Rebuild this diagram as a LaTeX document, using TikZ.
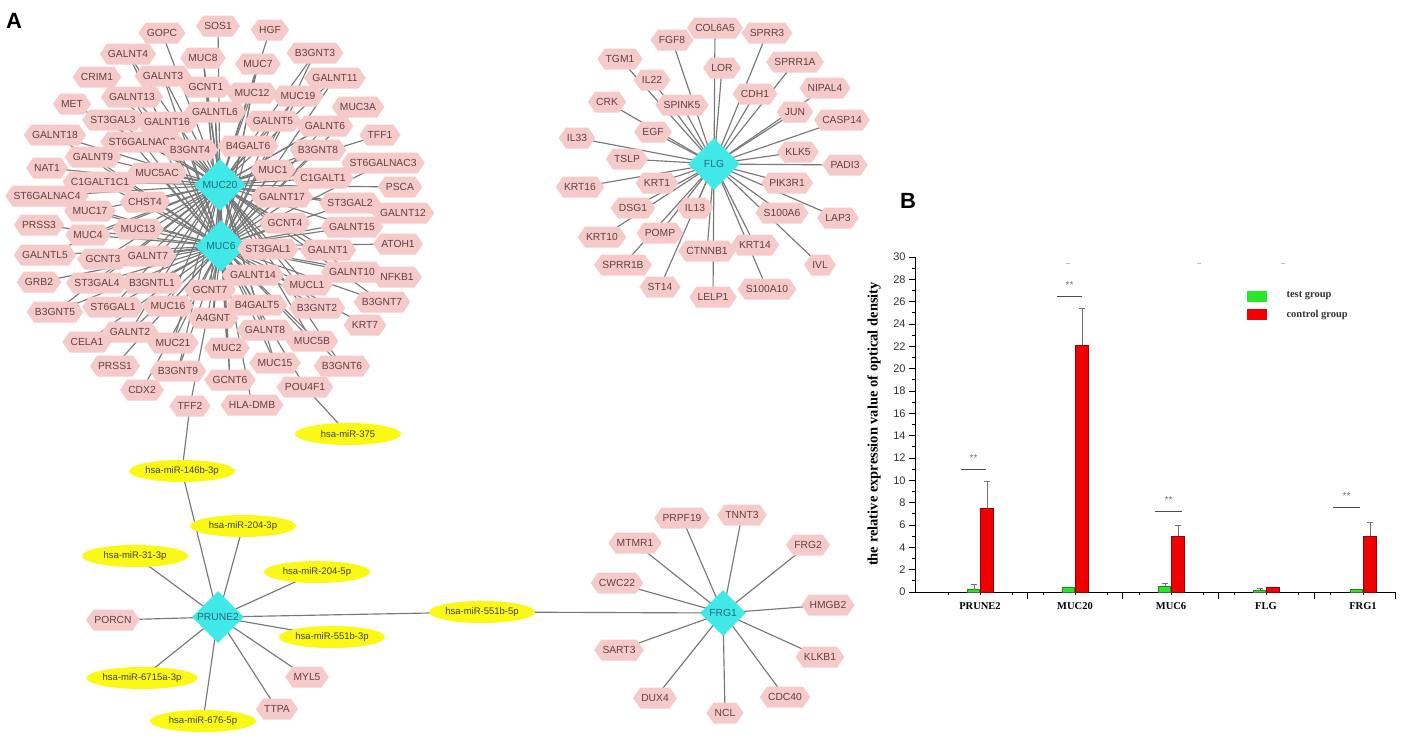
\documentclass[tikz,border=0pt]{standalone}
\usepackage{fontspec}
\setmainfont{Liberation Sans}
\newfontfamily\chartserif{Liberation Serif}
\usetikzlibrary{shapes.symbols,shapes.geometric}
\definecolor{hexpink}{RGB}{247,202,202}
\definecolor{hextext}{RGB}{95,65,65}
\definecolor{hubcyan}{RGB}{64,232,232}
\definecolor{hubtext}{RGB}{40,105,125}
\definecolor{mirfill}{RGB}{250,248,20}
\definecolor{edgegray}{RGB}{120,120,120}
\definecolor{barg}{RGB}{40,230,40}
\definecolor{bargd}{RGB}{30,140,30}
\definecolor{barr}{RGB}{240,0,0}
\definecolor{barrd}{RGB}{150,0,0}
\pgfdeclarelayer{bg}
\pgfsetlayers{bg,main}
\begin{document}
\begin{tikzpicture}[x=1pt,y=-1pt,
 hex/.style={shape=signal, signal to=east and west, signal pointer angle=110, fill=hexpink, text=hextext, font=\fontsize{10.3}{10}\selectfont, inner xsep=1pt, inner ysep=2pt, minimum height=21pt},
 hub/.style={diamond, fill=hubcyan, text=hubtext, font=\fontsize{10.3}{10}\selectfont, inner sep=0pt, minimum width=52pt, minimum height=52pt},
 mir/.style={ellipse, fill=mirfill, text=black!75, font=\fontsize{9.5}{10}\selectfont, inner sep=0pt, minimum width=106pt, minimum height=22pt},
 edge/.style={draw=edgegray, line width=1.15pt},
 panel/.style={font=\fontsize{22}{22}\selectfont\bfseries, text=black}]
\useasboundingbox (0,0) rectangle (1412,740);

\node[panel] (labA) at (14,21) {A};
\node[panel] (labB) at (908,201) {B};

% ---------- MUC20 / MUC6 cluster ----------
\node[hub] (MUC20) at (220,185) {MUC20};
\node[hub] (MUC6) at (221,246) {MUC6};
\foreach \n/\x/\y in {GOPC/162/33, SOS1/218/26, HGF/270/30, GALNT4/128/54, MUC8/203/58, MUC7/258/64,
  B3GNT3/315/53, CRIM1/97/77, GALNT3/163/76, GCNT1/206/87, MUC12/252/93, GALNT11/335/78,
  GALNT13/132/97, MUC19/298/96, MUC3A/358/107, MET/72/104, GALNTL6/215/112, ST3GAL3/113/120,
  GALNT16/167/122, GALNT5/273/121, GALNT6/325/126, TFF1/380/135, GALNT18/55/135, ST6GALNAC2/142/142,
  B3GNT4/190/150, B4GALT6/248/146, B3GNT8/318/150, GALNT9/93/157, MUC1/273/170, ST6GALNAC3/383/163,
  NAT1/47/168, MUC5AC/157/173, C1GALT1C1/100/182, C1GALT1/323/178, PSCA/400/187, ST6GALNAC4/47/196,
  CHST4/145/202, GALNT17/282/197, ST3GAL2/350/203, GALNT12/403/213, MUC17/90/211, PRSS3/39/225,
  MUC13/138/229, MUC4/88/235, GCNT4/285/223, GALNT15/352/227, GALNTL5/45/255, GCNT3/103/259,
  GALNT7/148/256, ST3GAL1/268/249, GALNT1/328/250, ATOH1/398/244, GRB2/39/282, ST3GAL4/97/283,
  B3GNTL1/152/283, GCNT7/210/290, GALNT14/253/275, GALNT10/352/272, NFKB1/397/277, MUCL1/307/285,
  B3GNT5/55/312, ST6GAL1/113/307, MUC16/168/306, A4GNT/213/318, B4GALT5/257/305, B3GNT2/317/308,
  B3GNT7/382/302, KRT7/365/325, CELA1/87/342, GALNT2/130/332, MUC21/173/343, GALNT8/265/330,
  MUC2/227/348, MUC5B/312/341, MUC15/275/363, B3GNT6/342/366, PRSS1/115/366, B3GNT9/178/371,
  GCNT6/230/380, POU4F1/305/387, CDX2/142/390, TFF2/190/406}
  \node[hex] (\n) at (\x,\y) {\n};
\node[hex] (HLADMB) at (252,405) {HLA-DMB};

% ---------- FLG cluster ----------
\node[hub] (FLG) at (714,164) {FLG};
\foreach \n/\x/\y in {COL6A5/715/28, SPRR3/767/33, FGF8/672/40, TGM1/620/59, LOR/722/68, SPRR1A/795/62,
  IL22/652/80, CDH1/755/94, NIPAL4/825/88, CRK/607/102, SPINK5/682/105, JUN/795/112, CASP14/842/120,
  EGF/653/132, IL33/577/138, KLK5/798/152, TSLP/627/159, PADI3/845/165, KRT1/657/183, KRT16/580/187,
  PIK3R1/787/183, DSG1/633/208, IL13/695/208, S100A6/782/213, LAP3/838/218, KRT10/602/237,
  POMP/660/233, CTNNB1/707/251, KRT14/755/245, IVL/820/265, SPRR1B/623/265, ST14/660/287,
  LELP1/713/297, S100A10/767/289}
  \node[hex] (\n) at (\x,\y) {\n};

% ---------- miRNAs and PRUNE2 ----------
\node[mir] (m375) at (348,434) {hsa-miR-375};
\node[mir] (m146) at (182,471) {hsa-miR-146b-3p};
\node[mir] (m204a) at (243,526) {hsa-miR-204-3p};
\node[mir] (m31) at (135,556) {hsa-miR-31-3p};
\node[mir] (m204b) at (317,572) {hsa-miR-204-5p};
\node[hub] (PRUNE2) at (218,617) {PRUNE2};
\node[hex] (PORCN) at (113,620) {PORCN};
\node[mir] (m551a) at (332,637) {hsa-miR-551b-3p};
\node[mir] (m6715) at (142,678) {hsa-miR-6715a-3p};
\node[hex] (MYL5) at (307,677) {MYL5};
\node[hex] (TTPA) at (277,709) {TTPA};
\node[mir] (m676) at (203,721) {hsa-miR-676-5p};
\node[mir] (m551b) at (482,612) {hsa-miR-551b-5p};

% ---------- FRG1 cluster ----------
\node[hub, minimum width=46pt, minimum height=46pt] (FRG1) at (723,613) {FRG1};
\foreach \n/\x/\y in {PRPF19/682/518, TNNT3/742/515, MTMR1/635/543, FRG2/808/545, CWC22/617/583,
  HMGB2/828/605, SART3/619/650, KLKB1/820/657, DUX4/655/698, CDC40/785/697, NCL/725/713}
  \node[hex] (\n) at (\x,\y) {\n};

% ---------- connectors ----------
\begin{pgfonlayer}{bg}
\draw[edge] (MUC20.center) -- (MUC6.center);
\foreach \n in {GALNT4, MUC8, MUC7, B3GNT3, GALNT3, GCNT1, MUC12, GALNT11, GALNT13, MUC19, MUC3A,
  GALNTL6, ST3GAL3, GALNT16, GALNT5, GALNT6, GALNT18, ST6GALNAC2, B3GNT4, B4GALT6, B3GNT8, GALNT9,
  MUC1, ST6GALNAC3, MUC5AC, C1GALT1C1, C1GALT1, ST6GALNAC4, CHST4, GALNT17, ST3GAL2, GALNT12, MUC17,
  MUC13, MUC4, GCNT4, GALNT15, GALNTL5, GCNT3, GALNT7, ST3GAL1, GALNT1, ST3GAL4, B3GNTL1, GCNT7,
  GALNT14, GALNT10, MUCL1, B3GNT5, ST6GAL1, MUC16, A4GNT, B4GALT5, B3GNT2, B3GNT7, GALNT2, MUC21,
  GALNT8, MUC2, MUC5B, MUC15, B3GNT6, B3GNT9, GCNT6}
  {\draw[edge] (MUC20.center) -- (\n.center);
   \draw[edge] (MUC6.center) -- (\n.center);}
\foreach \n in {GOPC, SOS1, HGF, CRIM1, MET, NAT1, TFF1, PSCA}
  \draw[edge] (MUC20.center) -- (\n.center);
\foreach \n in {PRSS3, GRB2, CELA1, PRSS1, CDX2, ATOH1, NFKB1, KRT7, HLADMB, POU4F1, TFF2}
  \draw[edge] (MUC6.center) -- (\n.center);
\draw[edge] (TFF2.center) -- (m146.center);
\draw[edge] (POU4F1.center) -- (m375.center);
\foreach \n in {COL6A5, SPRR3, FGF8, TGM1, LOR, SPRR1A, IL22, CDH1, NIPAL4, CRK, SPINK5, JUN, CASP14,
  EGF, IL33, KLK5, TSLP, PADI3, KRT1, KRT16, PIK3R1, DSG1, IL13, S100A6, LAP3, KRT10, POMP, CTNNB1,
  KRT14, IVL, SPRR1B, ST14, LELP1, S100A10}
  \draw[edge] (FLG.center) -- (\n.center);
\foreach \n in {m146, m204a, m31, m204b, PORCN, m551a, m6715, MYL5, TTPA, m676, m551b}
  \draw[edge] (PRUNE2.center) -- (\n.center);
\foreach \n in {PRPF19, TNNT3, MTMR1, FRG2, CWC22, HMGB2, SART3, KLKB1, DUX4, CDC40, NCL, m551b}
  \draw[edge] (FRG1.center) -- (\n.center);
\end{pgfonlayer}

% ---------- bar chart ----------
\begin{scope}[line width=0.8pt]
\draw (915,592) -- (915,257);
\draw (915,592) -- (1395,592);
\foreach \v in {0,2,...,30}
  {\draw (909,{592-\v*11.167}) -- (915,{592-\v*11.167});
   \node[anchor=east, inner sep=0pt, font=\fontsize{11}{11}\selectfont, text=black!80] at (906,{592-\v*11.167}) {\v};}
\foreach \v in {1,3,...,29}
  \draw (912,{592-\v*11.167}) -- (915,{592-\v*11.167});
\foreach \x in {1027,1122,1218,1314,1395}
  \draw (\x,592) -- (\x,599);
\foreach \x in {948,980,1012,1043,1075,1107,1139,1171,1203,1234,1266,1298,1330,1363}
  \draw (\x,592) -- (\x,595);
\end{scope}
\node[rotate=90, font=\chartserif\bfseries\fontsize{14.5}{14}\selectfont] (ylab) at (874,424) {the relative expression value of optical density};
\foreach \c/\t/\r/\lab in {980/0.2/7.5/PRUNE2, 1075/0.4/22.1/MUC20, 1171/0.5/5.0/MUC6, 1266/0.15/0.45/FLG, 1363/0.2/5.0/FRG1}
  {\filldraw[fill=barg, draw=bargd, line width=0.6pt] (\c-13,592) rectangle (\c-1,{592-\t*11.167});
   \filldraw[fill=barr, draw=barrd, line width=0.6pt] (\c,592) rectangle (\c+13,{592-\r*11.167});
   \node[font=\chartserif\bfseries\fontsize{10.5}{10}\selectfont] at (\c,606) {\lab};}
\begin{scope}[draw=black!55, line width=0.8pt]
\foreach \x/\b/\e in {987/7.5/9.9, 1082/22.1/25.4, 1178/5.0/6.0, 1370/5.0/6.2, 974/0.2/0.7, 1165/0.5/0.8, 1260/0.15/0.3}
  {\draw (\x,{592-\b*11.167}) -- (\x,{592-\e*11.167});
   \draw (\x-3,{592-\e*11.167}) -- (\x+3,{592-\e*11.167});}
\end{scope}
\foreach \a/\b/\v in {961/986/11, 1057/1082/26.5, 1155/1182/7.25, 1333/1360/7.6}
  {\draw[black!70, line width=0.9pt] (\a,{592-\v*11.167}) -- (\b,{592-\v*11.167});
   \node[text=black!55, font=\fontsize{10}{10}\selectfont, inner sep=0pt] at ({(\a+\b)/2},{592-\v*11.167-11}) {**};}
\fill[black!25] (1066,262.5) rectangle (1070,263.5);
\fill[black!25] (1197,262.5) rectangle (1201,263.5);
\fill[black!25] (1281,262.5) rectangle (1285,263.5);
% legend
\fill[barg] (1247,291) rectangle (1267,302);
\fill[barr] (1247,309) rectangle (1267,320);
\node[anchor=west, font=\chartserif\bfseries\fontsize{10.5}{10}\selectfont, text=black!80] (lg1) at (1283,296) {test group};
\node[anchor=west, font=\chartserif\bfseries\fontsize{10.5}{10}\selectfont, text=black!80] (lg2) at (1283,315) {control group};
\end{tikzpicture}
\end{document}
